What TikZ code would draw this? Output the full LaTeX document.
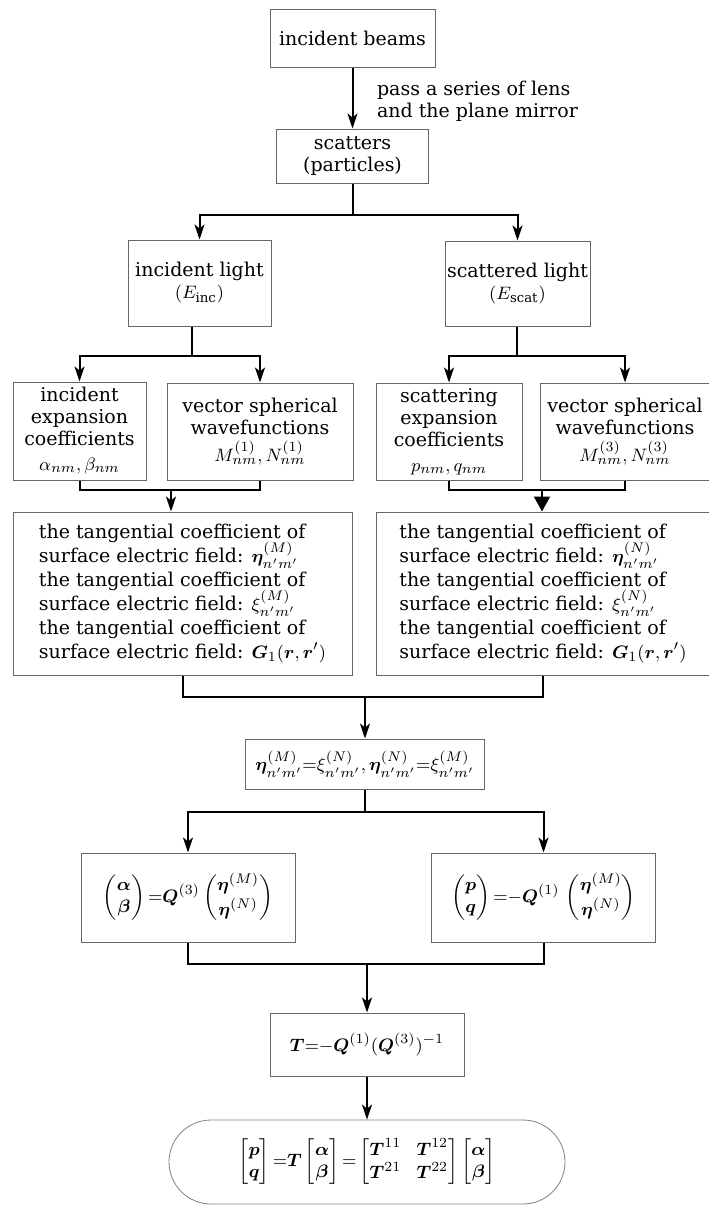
\documentclass[tikz,border=0pt]{standalone}
\usepackage{amsmath,amssymb,bm}
\usepackage{fontspec}
\setmainfont{DejaVu Serif}
\usetikzlibrary{arrows.meta}
\setlength{\arraycolsep}{2.5pt}

\begin{document}
\begin{tikzpicture}[x=0.5pt,y=-0.5pt,
    font=\fontsize{9.5pt}{11pt}\selectfont,
    box/.style={draw=black!60,line width=0.5pt,inner sep=0pt,align=center},
    tanbox/.style={box,font=\fontsize{9.5pt}{12pt}\selectfont},
    link/.style={line width=1pt},
    arr/.style={link,-{Stealth[length=7.5pt,width=5pt,inset=2pt]}}]
    \useasboundingbox (0,0) rectangle (708,1206);

    % Source and scatterer
    \node[box,minimum width=82.5pt,minimum height=29pt] (beams) at (352.5,38) {incident beams};
    \node[box,minimum width=76pt,minimum height=27pt] (scatters) at (352.5,156) {scatters\\(particles)};
    \node[anchor=west,align=left] (via) at (370,101) {pass a series of lens\\and the plane mirror};

    % Incident and scattered fields
    \node[box,minimum width=71.5pt,minimum height=43pt] (inclight) at (199.5,283) {incident light\\$(E_{\mathrm{inc}})$};
    \node[box,minimum width=72.5pt,minimum height=42.5pt] (scatlight) at (517.5,283.5) {scattered light\\$(E_{\mathrm{scat}})$};

    % Expansions
    \node[box,minimum width=66.5pt,minimum height=49pt] (incexp) at (79.5,431) {incident\\expansion\\coefficients\\[1.5pt]$\alpha_{nm},\beta_{nm}$};
    \node[box,minimum width=93pt,minimum height=48.5pt] (vswone) at (260,431.5) {vector spherical\\wavefunctions\\[2.5pt]$M^{(1)}_{nm}, N^{(1)}_{nm}$};
    \node[box,minimum width=73pt,minimum height=48.5pt] (scatexp) at (449,431.5) {scattering\\expansion\\coefficients\\[1.5pt]$p_{nm}, q_{nm}$};
    \node[box,minimum width=85pt,minimum height=48.5pt] (vswthree) at (625,431.5) {vector spherical\\wavefunctions\\[2.5pt]$M^{(3)}_{nm}, N^{(3)}_{nm}$};

    % Tangential coefficients
    \node[tanbox,minimum width=169.5pt,minimum height=81.5pt] (tanL) at (182.5,593.5) {\begin{tabular}{@{}l@{}}
        the tangential coefficient of\\ surface electric field: $\smash{\bm{\eta}^{(M)}_{n'm'}}$\\
        the tangential coefficient of\\ surface electric field: $\smash{\xi^{(M)}_{n'm'}}$\\
        the tangential coefficient of\\ surface electric field: $\smash{\bm{G}_1(\bm{r},\bm{r}')}$\end{tabular}};
    \node[tanbox,minimum width=167pt,minimum height=81.5pt] (tanR) at (543,593.5) {\begin{tabular}{@{}l@{}}
        the tangential coefficient of\\ surface electric field: $\smash{\bm{\eta}^{(N)}_{n'm'}}$\\
        the tangential coefficient of\\ surface electric field: $\smash{\xi^{(N)}_{n'm'}}$\\
        the tangential coefficient of\\ surface electric field: $\smash{\bm{G}_1(\bm{r},\bm{r}')}$\end{tabular}};

    % Boundary condition and T-matrix
    \node[box,minimum width=119.5pt,minimum height=25pt] (eqbox) at (365,764) {$\bm{\eta}^{(M)}_{n'm'}{=}\xi^{(N)}_{n'm'},\bm{\eta}^{(N)}_{n'm'}{=}\xi^{(M)}_{n'm'}$};
    \node[box,minimum width=107pt,minimum height=44.5pt] (Qthree) at (188,897.5) {$\begin{pmatrix}\bm{\alpha}\\ \bm{\beta}\end{pmatrix}{=}\bm{Q}^{(3)}\begin{pmatrix}\bm{\eta}^{(M)}\\ \bm{\eta}^{(N)}\end{pmatrix}$};
    \node[box,minimum width=112pt,minimum height=44.5pt] (Qone) at (543.5,897.5) {$\begin{pmatrix}\bm{p}\\ \bm{q}\end{pmatrix}{=}{-}\bm{Q}^{(1)}\,\begin{pmatrix}\bm{\eta}^{(M)}\\ \bm{\eta}^{(N)}\end{pmatrix}$};
    \node[box,minimum width=97pt,minimum height=31.5pt] (Tbox) at (367,1044.5) {$\bm{T}{=}{-}\bm{Q}^{(1)}(\bm{Q}^{(3)})^{-1}$};
    \node[box,draw=black!50,line width=0.4pt,rounded corners=21pt,minimum width=198pt,minimum height=42pt] (result) at (367,1162)
        {$\begin{bmatrix}\bm{p}\\ \bm{q}\end{bmatrix}{=}\bm{T}\begin{bmatrix}\bm{\alpha}\\ \bm{\beta}\end{bmatrix}{=}\begin{bmatrix}\bm{T}^{11} & \;\bm{T}^{12}\\ \bm{T}^{21} & \;\bm{T}^{22}\end{bmatrix}\begin{bmatrix}\bm{\alpha}\\ \bm{\beta}\end{bmatrix}$};

    % Forks and joins
    \coordinate (forkA) at (352.5,215);
    \coordinate (forkB) at (192,356);
    \coordinate (forkC) at (517,356);
    \coordinate (joinA) at (171,490);
    \coordinate (joinB) at (542,490);
    \coordinate (joinC) at (365,697);
    \coordinate (forkD) at (365,812);
    \coordinate (joinD) at (367,964);

    \draw[arr] (beams) -- (scatters);
    \draw[link] (scatters) -- (forkA);
    \draw[arr] (forkA) -| (inclight);
    \draw[arr] (forkA) -| (scatlight);

    \draw[link] (inclight.south -| forkB) -- (forkB);
    \draw[arr] (forkB) -| (incexp);
    \draw[arr] (forkB) -| (vswone);
    \draw[link] (scatlight.south -| forkC) -- (forkC);
    \draw[arr] (forkC) -| (scatexp);
    \draw[arr] (forkC) -| (vswthree);

    \draw[link] (incexp) |- (joinA);
    \draw[link] (vswone) |- (joinA);
    \draw[arr] (joinA) -- (joinA |- tanL.north);
    \draw[link] (scatexp) |- (joinB);
    \draw[link] (vswthree) |- (joinB);
    \draw[link,-{Triangle[length=7.5pt,width=8pt]}] (joinB) -- (joinB |- tanR.north);

    \draw[link] (tanL) |- (joinC);
    \draw[link] (tanR) |- (joinC);
    \draw[arr] (joinC) -- (eqbox);
    \draw[link] (eqbox) -- (forkD);
    \draw[arr] (forkD) -| (Qthree);
    \draw[arr] (forkD) -| (Qone);

    \draw[link] (Qthree) |- (joinD);
    \draw[link] (Qone) |- (joinD);
    \draw[arr] (joinD) -- (Tbox);
    \draw[arr] (Tbox) -- (result);
\end{tikzpicture}
\end{document}
